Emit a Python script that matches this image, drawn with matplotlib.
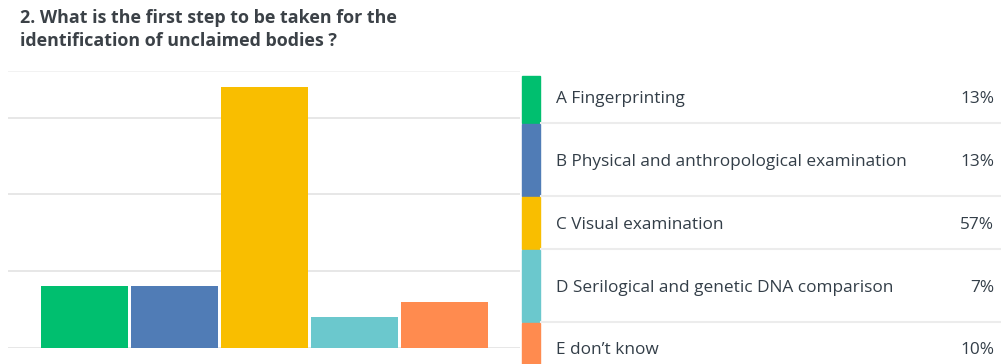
import numpy as np
import matplotlib.pyplot as plt
from matplotlib.patches import Rectangle
from matplotlib.lines import Line2D

# survey answers
options = ['A Fingerprinting',
           'B Physical and anthropological examination',
           'C Visual examination',
           'D Serilogical and genetic DNA comparison',
           'E don\u2019t know']
responses = np.array([4, 4, 17, 2, 3])
colors = ['#00BF6F', '#507CB6', '#F9BE00', '#6BC8CD', '#FF8B4F']
percent = responses / responses.sum() * 100

title = '2. What is the first step to be taken for the\nidentification of unclaimed bodies ?'

W, H = 1001, 364
fig = plt.figure(figsize=(W/100, H/100), dpi=100)
fig.patch.set_facecolor('white')

def fx(px):
    return px / W

def fy(py):
    return 1 - py / H

# bar chart
top, base, left, right = 71, 347.5, 8, 520
ax = fig.add_axes([fx(left), fy(base), fx(right-left), (base-top)/H])
x = np.arange(len(responses))
ax.bar(x, responses, width=0.96, color=colors, zorder=3)
ax.set_xlim(-0.849, -0.849 + (right-left)/90)
ax.set_ylim(0, 18.07)
for v in [0, 5, 10, 15, 18.07]:
    ax.axhline(v, color='#e3e3e3' if v < 18 else '#f0f0f0', lw=1.2, zorder=1)
ax.axis('off')

fig.text(fx(20), fy(9), title, ha='left', va='top', fontsize=12.9,
         fontweight='bold', color='#3b4147', family='Open Sans', linespacing=1.38)

# legend rows with colour strips
rows = [(76, 122.7), (123.7, 196), (196.7, 249.3), (250, 322), (322.5, 364)]
centers = [98.8, 161.5, 224.8, 287.5, 350.2]
for (y0, y1), yc, lab, p, c in zip(rows, centers, options, percent, colors):
    fig.patches.append(Rectangle((fx(521.5), fy(y1)), fx(18.5), (y1-y0)/H,
                                 transform=fig.transFigure, color=c))
    fig.text(fx(556.5), fy(yc), lab, ha='left', va='center', fontsize=12.4,
             color='#333e48', family='Open Sans')
    fig.text(fx(994), fy(yc), f'{p:.0f}%', ha='right', va='center', fontsize=12.4,
             color='#333e48', family='Open Sans')
for y in [122.7, 196, 249.3, 322]:
    fig.lines.append(Line2D([fx(541), 1], [fy(y), fy(y)], transform=fig.transFigure,
                            color='#ececec', lw=1.5))

fig.savefig('out.png', dpi=100, facecolor='white')
